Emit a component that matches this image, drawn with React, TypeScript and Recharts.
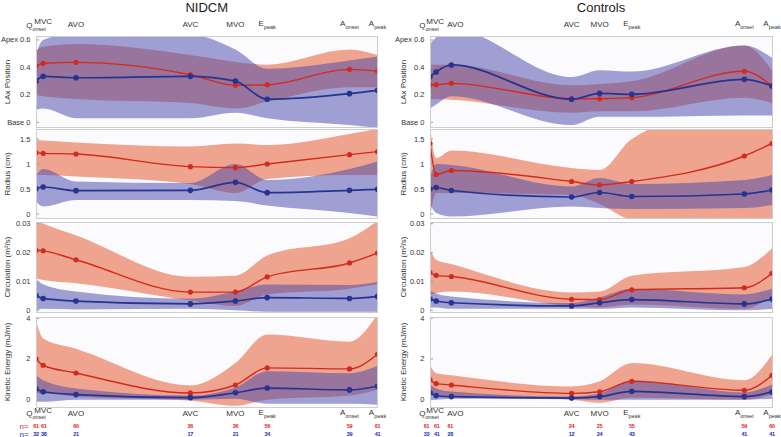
import React from 'react';
import { ComposedChart, Area, Line, XAxis, YAxis } from 'recharts';

const FONT = '"Liberation Sans", Arial, Helvetica, sans-serif';

// Event timing (normalised cycle position) and names
const EVENT_NAMES = ['Q', 'MVC', 'AVO', 'AVC', 'MVO', 'E', 'A', 'A'];
const EVENT_SUBS = ['onset', '', '', '', '', 'peak', 'onset', 'peak'];
const T_NIDCM = [0, 0.021, 0.117, 0.452, 0.584, 0.677, 0.918, 1];
const T_CTRL = [0, 0.018, 0.0625, 0.414, 0.496, 0.59, 0.919, 1];

// n values
const N_NIDCM_RED = ['61', '61', '60', '36', '36', '56', '59', '61'];
const N_NIDCM_BLUE = ['32', '38', '21', '17', '21', '34', '39', '41'];
const N_CTRL_RED = ['61', '61', '61', '24', '25', '55', '59', '60'];
const N_CTRL_BLUE = ['33', '41', '28', '12', '24', '43', '41', '41'];

// ---------- NIDCM ----------
// LAx position
const N_LAX_RM = [0.41, 0.43, 0.437, 0.347, 0.27, 0.274, 0.386, 0.374];
const N_LAX_RL = [0.2, 0.19, 0.17, 0.14, 0.1, 0.15, 0.255, 0.255];
const N_LAX_RH = [0.52, 0.55, 0.57, 0.49, 0.44, 0.42, 0.53, 0.49];
const N_LAX_BM = [0.3, 0.335, 0.325, 0.335, 0.3, 0.168, 0.209, 0.233];
const N_LAX_BL = [0.09, 0.1, 0.03, 0.03, 0.07, 0.03, -0.02, -0.04];
const N_LAX_BH = [0.5, 0.6, 0.65, 0.64, 0.53, 0.39, 0.45, 0.48];
// Radius
const N_RAD_RM = [1.227, 1.213, 1.2, 0.947, 0.927, 1.0, 1.187, 1.247];
const N_RAD_RL = [0.78, 0.78, 0.75, 0.6, 0.42, 0.7, 0.78, 0.78];
const N_RAD_RH = [1.48, 1.47, 1.43, 1.35, 1.41, 1.38, 1.6, 1.7];
const N_RAD_BM = [0.507, 0.54, 0.467, 0.473, 0.633, 0.427, 0.473, 0.493];
const N_RAD_BL = [0.25, 0.15, 0.28, 0.28, 0.26, 0.17, 0.02, -0.05];
const N_RAD_BH = [0.78, 0.9, 0.65, 0.62, 1.0, 0.68, 0.9, 1.05];
// Circulation
const N_CIR_RM = [0.0208, 0.0206, 0.0175, 0.0063, 0.0063, 0.0116, 0.0164, 0.0198];
const N_CIR_RL = [0.011, 0.0105, 0.0094, 0.0034, 0.0015, 0.0055, 0.0075, 0.009];
const N_CIR_RH = [0.031, 0.03, 0.026, 0.0116, 0.012, 0.019, 0.025, 0.031];
const N_CIR_BM = [0.0051, 0.0041, 0.0032, 0.0022, 0.0032, 0.0044, 0.0041, 0.0048];
const N_CIR_BL = [0.0, 0.0005, 0.0003, 0.0005, 0.0, -0.0005, -0.0005, -0.0005];
const N_CIR_BH = [0.0106, 0.009, 0.0065, 0.004, 0.0065, 0.0089, 0.0088, 0.0098];
// Kinetic energy
const N_KE_RM = [2.0, 1.69, 1.31, 0.33, 0.72, 1.56, 1.51, 2.23];
const N_KE_RL = [0.3, 0.3, 0.15, -0.05, -0.3, 0.0, 0.2, 0.5];
const N_KE_RH = [3.9, 3.0, 2.5, 0.7, 1.8, 3.2, 2.85, 4.2];
const N_KE_BM = [0.52, 0.39, 0.25, 0.1, 0.34, 0.57, 0.48, 0.66];
const N_KE_BL = [-0.1, -0.1, 0.0, 0.0, 0.05, -0.2, -0.2, -0.25];
const N_KE_BH = [1.2, 0.95, 0.55, 0.2, 0.6, 1.4, 1.3, 1.65];

// ---------- Controls ----------
const C_LAX_RM = [0.274, 0.274, 0.284, 0.172, 0.172, 0.18, 0.372, 0.265];
const C_LAX_RL = [0.17, 0.17, 0.165, 0.07, 0.08, 0.08, 0.18, 0.14];
const C_LAX_RH = [0.42, 0.42, 0.42, 0.27, 0.28, 0.3, 0.56, 0.38];
const C_LAX_BM = [0.333, 0.367, 0.418, 0.168, 0.211, 0.204, 0.313, 0.265];
const C_LAX_BL = [0.1, 0.13, 0.19, -0.02, 0.04, 0.04, 0.05, 0.05];
const C_LAX_BH = [0.57, 0.62, 0.68, 0.33, 0.38, 0.37, 0.56, 0.47];

const C_RAD_RM = [1.41, 0.79, 0.87, 0.65, 0.58, 0.65, 1.16, 1.41];
const C_RAD_RL = [-0.08, 0.42, 0.42, 0.38, 0.2, -0.1, -0.1, -0.1];
const C_RAD_RH = [1.75, 1.12, 1.27, 0.92, 0.88, 1.5, 2.2, 2.2];
const C_RAD_BM = [0.5, 0.53, 0.47, 0.34, 0.43, 0.35, 0.4, 0.48];
const C_RAD_BL = [0.2, 0.02, -0.05, 0.15, 0.12, 0.1, 0.12, 0.18];
const C_RAD_BH = [0.72, 1.0, 0.98, 0.55, 0.72, 0.6, 0.68, 0.78];

const C_CIR_RM = [0.0131, 0.0121, 0.0117, 0.0038, 0.0037, 0.0071, 0.0078, 0.0128];
const C_CIR_RL = [0.0055, 0.006, 0.0065, 0.0015, 0.001, 0.002, 0.0005, 0.005];
const C_CIR_RH = [0.0215, 0.0175, 0.016, 0.0062, 0.0065, 0.012, 0.015, 0.0215];
const C_CIR_BM = [0.0039, 0.0032, 0.0026, 0.0015, 0.0026, 0.0037, 0.0022, 0.0039];
const C_CIR_BL = [0.001, 0.001, 0.0005, 0.0005, 0.0005, 0.001, 0.0, 0.0005];
const C_CIR_BH = [0.0068, 0.0058, 0.0048, 0.0025, 0.0045, 0.0075, 0.0055, 0.0075];

const C_KE_RM = [0.98, 0.79, 0.72, 0.31, 0.39, 0.9, 0.46, 1.2];
const C_KE_RL = [0.25, 0.25, 0.2, 0.0, -0.15, 0.1, 0.0, 0.25];
const C_KE_RH = [1.7, 1.3, 1.2, 0.65, 0.9, 1.8, 0.95, 2.2];
const C_KE_BM = [0.34, 0.2, 0.15, 0.08, 0.15, 0.41, 0.15, 0.38];
const C_KE_BL = [0.0, 0.0, 0.05, 0.02, 0.0, 0.0, 0.0, 0.05];
const C_KE_BH = [0.75, 0.55, 0.4, 0.15, 0.3, 0.95, 0.35, 0.75];

// Y axis ticks
const LAX_TICKS = [0, 0.2, 0.4, 0.6];
const RAD_TICKS = [0, 0.5, 1, 1.5];
const CIR_TICKS = [0, 0.01, 0.02, 0.03];
const KE_TICKS = [0, 2, 4];

const build = (t: number[], rm: number[], rl: number[], rh: number[], bm: number[], bl: number[], bh: number[]) =>
  t.map((tv, i) => ({ t: tv, rMean: rm[i], rBand: [rl[i], rh[i]], bMean: bm[i], bBand: [bl[i], bh[i]] }));

const RED_LINE = '#d42a1e';
const RED_FILL = '#eea48f';
const BLUE_LINE = '#26348f';
const BLUE_FILL = '#4444ac';

const YW = 40;
const VM = 8; // vertical margin around each plot so tick labels are not cut
const COLS = [
  { x0: 36, w: 341.5, t: T_NIDCM, title: 'NIDCM', labelX: 6.5, nRed: N_NIDCM_RED, nBlue: N_NIDCM_BLUE,
    labelDx: [0, 0, 0, 0, 0, 0, 0, 0], nDx: [0, 0.5, 0, 0, 0, 0, 0, 0] },
  { x0: 430, w: 342, t: T_CTRL, title: 'Controls', labelX: 402.5, nRed: N_CTRL_RED, nBlue: N_CTRL_BLUE,
    labelDx: [-1, -1, 4, 0, 0, 0, 0, 0], nDx: [-3.5, 0.5, -1, 0, 0, 0, 0, 0] },
];

const PANELS = [
  { top: 36, h: 91, domain: [-0.034, 0.629], ticks: LAX_TICKS, label: 'LAx Position',
    fmt: (v: number) => (v === 0.6 ? 'Apex 0.6' : v === 0 ? 'Base 0' : String(v)) },
  { top: 129, h: 89, domain: [-0.08, 1.7], ticks: RAD_TICKS, label: 'Radius (cm)', fmt: (v: number) => String(v) },
  { top: 222, h: 90, domain: [-0.0006, 0.0306], ticks: CIR_TICKS, label: 'Circulation (m\u00B2/s)', fmt: (v: number) => String(v) },
  { top: 317, h: 90, domain: [-0.36, 4.06], ticks: KE_TICKS, label: 'Kinetic Energy (mJ/m)', fmt: (v: number) => String(v) },
];

const DATA = [
  [
    build(T_NIDCM, N_LAX_RM, N_LAX_RL, N_LAX_RH, N_LAX_BM, N_LAX_BL, N_LAX_BH),
    build(T_NIDCM, N_RAD_RM, N_RAD_RL, N_RAD_RH, N_RAD_BM, N_RAD_BL, N_RAD_BH),
    build(T_NIDCM, N_CIR_RM, N_CIR_RL, N_CIR_RH, N_CIR_BM, N_CIR_BL, N_CIR_BH),
    build(T_NIDCM, N_KE_RM, N_KE_RL, N_KE_RH, N_KE_BM, N_KE_BL, N_KE_BH),
  ],
  [
    build(T_CTRL, C_LAX_RM, C_LAX_RL, C_LAX_RH, C_LAX_BM, C_LAX_BL, C_LAX_BH),
    build(T_CTRL, C_RAD_RM, C_RAD_RL, C_RAD_RH, C_RAD_BM, C_RAD_BL, C_RAD_BH),
    build(T_CTRL, C_CIR_RM, C_CIR_RL, C_CIR_RH, C_CIR_BM, C_CIR_BL, C_CIR_BH),
    build(T_CTRL, C_KE_RM, C_KE_RL, C_KE_RH, C_KE_BM, C_KE_BL, C_KE_BH),
  ],
];

function EventLabel({ x, y, i }: { x: number; y: number; i: number }) {
  const raised = EVENT_NAMES[i] === 'MVC';
  return (
    <div
      style={{
        position: 'absolute', left: x, top: raised ? y - 3 : y, transform: 'translate(-50%, -50%)',
        fontSize: 8, color: '#333', whiteSpace: 'nowrap', lineHeight: '9px',
      }}
    >
      {EVENT_NAMES[i]}
      {EVENT_SUBS[i] ? (
        <span style={{ fontSize: 5.5, position: 'relative', top: 3 }}>{EVENT_SUBS[i]}</span>
      ) : null}
    </div>
  );
}

function makeTick(fmt: (v: number) => string) {
  return (props: any) => (
    <text x={props.x} y={props.y} textAnchor="end" dominantBaseline="central" fontSize={7.5} fill="#333" fontFamily={FONT}>
      {fmt(props.payload.value)}
    </text>
  );
}

function Panel({ ci, pi }: { ci: number; pi: number }) {
  const col = COLS[ci];
  const p = PANELS[pi];
  const data = DATA[ci][pi];
  return (
    <div style={{ position: 'absolute', left: col.x0 - YW, top: p.top - VM }}>
      <ComposedChart width={YW + col.w} height={p.h + 2 * VM} data={data} margin={{ top: VM, right: 0, bottom: VM, left: 0 }}>
        <XAxis dataKey="t" type="number" domain={[0, 1]} ticks={col.t} tick={false} tickSize={-3}
          height={0} axisLine={false} tickLine={{ stroke: '#9a9a9a' }} allowDataOverflow interval={0} />
        <XAxis xAxisId="top" orientation="top" dataKey="t" type="number" domain={[0, 1]} ticks={col.t} tick={false}
          tickSize={-3} height={0} axisLine={false} tickLine={{ stroke: '#9a9a9a' }} allowDataOverflow interval={0} />
        <YAxis type="number" width={YW} domain={p.domain} ticks={p.ticks} allowDataOverflow interval={0}
          tickSize={-3} tickMargin={8.5} axisLine={false}
          tickLine={{ stroke: '#9a9a9a' }} tick={makeTick(p.fmt)} />
        <Area dataKey="rBand" type="monotone" fill={RED_FILL} fillOpacity={1} stroke="none" isAnimationActive={false} dot={false} activeDot={false} />
        <Area dataKey="bBand" type="monotone" fill={BLUE_FILL} fillOpacity={0.5} stroke="none" isAnimationActive={false} dot={false} activeDot={false} />
        <Line dataKey="rMean" type="monotone" stroke={RED_LINE} strokeWidth={1.4}
          dot={{ r: 2.6, fill: RED_LINE, stroke: 'none' }} activeDot={false} isAnimationActive={false} />
        <Line dataKey="bMean" type="monotone" stroke={BLUE_LINE} strokeWidth={1.7}
          dot={{ r: 2.8, fill: BLUE_LINE, stroke: 'none' }} activeDot={false} isAnimationActive={false} />
      </ComposedChart>
    </div>
  );
}

export default function App() {
  return (
    <div style={{ position: 'absolute', left: 0, top: 0, width: 781, height: 437, background: '#fff', fontFamily: FONT, overflow: 'hidden' }}>
      {COLS.map((col, ci) => (
        <React.Fragment key={ci}>
          <div style={{ position: 'absolute', left: col.x0 + col.w / 2, top: 7, transform: 'translate(-50%, -50%)', fontSize: 13, color: '#222', whiteSpace: 'nowrap' }}>
            {col.title}
          </div>
          {PANELS.map((p, pi) => (
            <React.Fragment key={pi}>
              <div style={{ position: 'absolute', left: col.x0, top: p.top, width: col.w, height: p.h, background: '#fbfbfd' }} />
              <Panel ci={ci} pi={pi} />
              <div style={{ position: 'absolute', left: col.x0 - 0.5, top: p.top - 0.5, width: col.w + 1, height: p.h + 1, border: '1px solid #cdcdcd', boxSizing: 'border-box', pointerEvents: 'none' }} />
              <div style={{ position: 'absolute', left: col.labelX, top: p.top + p.h / 2, transform: 'translate(-50%, -50%) rotate(-90deg)', fontSize: 8, color: '#333', whiteSpace: 'nowrap' }}>
                {p.label}
              </div>
            </React.Fragment>
          ))}
          {col.t.map((tv, i) => (
            <React.Fragment key={'ev' + i}>
              <EventLabel x={col.x0 + tv * col.w + col.labelDx[i]} y={EVENT_NAMES[i] === 'Q' ? 25.5 : 23.5} i={i} />
              <EventLabel x={col.x0 + tv * col.w + col.labelDx[i]} y={EVENT_NAMES[i] === 'Q' ? 414 : 412.5} i={i} />
              <div style={{ position: 'absolute', left: col.x0 + tv * col.w + col.nDx[i], top: 425.5, transform: 'translate(-50%, -50%)', fontSize: 5.5, fontWeight: 'bold', letterSpacing: -0.3, color: '#e3261c', whiteSpace: 'nowrap' }}>
                {col.nRed[i]}
              </div>
              <div style={{ position: 'absolute', left: col.x0 + tv * col.w + col.nDx[i], top: 434, transform: 'translate(-50%, -50%)', fontSize: 5.5, fontWeight: 'bold', letterSpacing: -0.3, color: '#1d2dbd', whiteSpace: 'nowrap' }}>
                {col.nBlue[i]}
              </div>
            </React.Fragment>
          ))}
        </React.Fragment>
      ))}
      <div style={{ position: 'absolute', left: 24, top: 425.5, transform: 'translate(-50%, -50%)', fontSize: 8, color: '#e3261c' }}>n=</div>
      <div style={{ position: 'absolute', left: 24, top: 434, transform: 'translate(-50%, -50%)', fontSize: 8, color: '#1d2dbd' }}>n=</div>
    </div>
  );
}
